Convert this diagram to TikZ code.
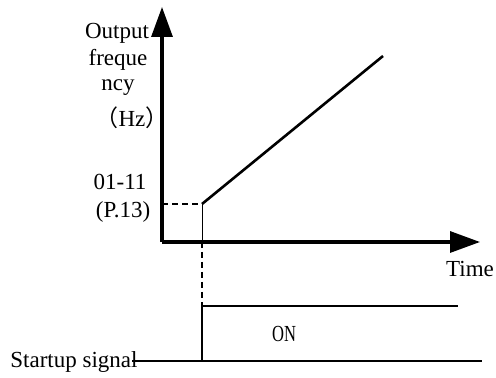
\documentclass[tikz,border=0pt]{standalone}
\usepackage{fontspec}
\setmainfont{Liberation Serif}
\newfontfamily\cjk{Noto Sans CJK SC}
\usetikzlibrary{arrows.meta}
\tikzset{
  axis/.style={line width=1.6pt,-{Triangle[length=15pt,width=10.5pt]}},
  ramp/.style={line width=1.3pt},
  sig/.style={line width=1.3pt},
  guide/.style={line width=.8pt,dash pattern=on 3pt off 2pt},
  thin/.style={line width=.5pt},
  lbl/.style={font=\fontsize{11.5}{13}\selectfont,inner sep=0pt},
}
\begin{document}
\begin{tikzpicture}[x=.5pt,y=-.5pt]
  \useasboundingbox (0,0) rectangle (496,378);
  % axes
  \coordinate (o) at (162,242);
  \coordinate (ytop) at (162,7);
  \coordinate (xend) at (480,242);
  \draw[axis] (o) -- (ytop);
  \draw[axis] (o) -- (xend);
  % frequency ramp
  \coordinate (f0) at (202,204);
  \coordinate (f1) at (383,56);
  \coordinate (fy) at (162,204);
  \coordinate (ft) at (202,242);
  \draw[ramp] (f0) -- (f1);
  \draw[guide] (fy) -- (f0);
  \draw[thin] (f0) -- (ft);
  % startup signal
  \coordinate (son) at (202,306);
  \coordinate (soff) at (202,361);
  \coordinate (shi) at (458,306);
  \coordinate (sbeg) at (132,361);
  \coordinate (send) at (482,361);
  \draw[guide] (ft) -- (son);
  \draw[sig] (sbeg) -- (soff) -- (son) -- (shi);
  \draw[sig] (soff) -- (send);
  % labels
  \node[lbl] (out) at (117,33) {Output};
  \node[lbl] (fre) at (118,60) {freque};
  \node[lbl] (ncy) at (118,88) {ncy};
  \node[lbl] (hz) at (132,118) {{\cjk（}Hz{\cjk）}};
  \node[lbl] (p1) at (120,182) {01-11};
  \node[lbl] (p2) at (123,212) {(P.13)};
  \node[lbl] (time) at (470,269) {Time};
  \node[lbl] (on) at (284,334) {\scalebox{.72}[1]{ON}};
  \node[lbl] (start) at (74,362) {Startup signal};
\end{tikzpicture}
\end{document}
